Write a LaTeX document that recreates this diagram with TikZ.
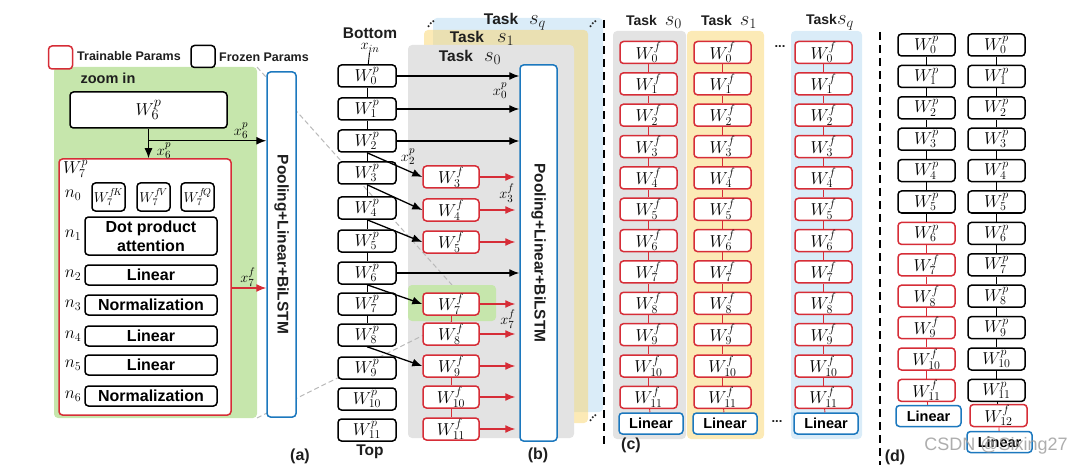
\documentclass[tikz,border=0pt]{standalone}
\usepackage{fontspec}
\setmainfont{Liberation Sans}
\usetikzlibrary{arrows.meta,positioning,calc}

\definecolor{tred}{RGB}{214,45,55}
\definecolor{tblue}{RGB}{28,120,190}
\definecolor{tgray}{RGB}{227,227,227}
\definecolor{tyellow}{RGB}{250,214,110}
\definecolor{tsky}{RGB}{218,236,248}
\definecolor{tgreen}{RGB}{198,230,172}
\definecolor{ttext}{RGB}{30,30,30}

\newcommand{\sbig}[1]{{\fontsize{21}{21}\selectfont$#1$}}

\tikzset{
  blk/.style={draw=black,line width=1.5pt,rounded corners=3.5pt,fill=white,
    inner sep=0pt,minimum width=58pt,minimum height=22pt,
    font=\fontsize{17.5}{17.5}\selectfont},
  trn/.style={blk,draw=tred},
  lin/.style={blk,draw=tblue,minimum width=64pt,minimum height=21pt,
    font=\fontsize{14.5}{14.5}\selectfont\bfseries},
  op/.style={blk,minimum width=132pt,minimum height=20pt,
    font=\fontsize{16}{19}\selectfont\bfseries},
  pool/.style={blk,draw=tblue},
  arr/.style={line width=1.3pt,-{Latex[length=10pt,width=8pt]}},
  rarr/.style={arr,tred},
  link/.style={line width=0.9pt},
  lbl/.style={inner sep=0pt,font=\fontsize{15.5}{15.5}\selectfont},
  txt/.style={inner sep=0pt,text=ttext,font=\fontsize{#1}{#1}\selectfont\bfseries},
  txt/.default=15,
  panel/.style={rounded corners=4pt},
  sepline/.style={line width=1.4pt,dash pattern=on 8pt off 5pt},
  zoomline/.style={gray!55,line width=1pt,dash pattern=on 5pt off 3pt},
}

\begin{document}
\begin{tikzpicture}[x=1pt,y=-1pt]
\useasboundingbox (0,0) rectangle (1085,468);

% backgrounds
\fill[tgreen,panel] (54,67) rectangle (257,418);
\coordinate (zt) at (257,67);
\coordinate (zb) at (257,418);

\fill[tsky,panel] (433,18) rectangle (603,412);
\fill[tyellow,fill opacity=.5,panel] (424,30) rectangle (588,423);
\fill[tgray,panel] (408,45) rectangle (574,438);
\coordinate (ht) at (452,285);
\coordinate (hb) at (452,321);
\draw[zoomline] (zt) -- (ht);
\draw[zoomline] (zb) -- (hb);
\fill[tgreen,panel] (408,285) rectangle (496,321);

\fill[tgray,panel] (613,31) rectangle (686,439);
\fill[tyellow,fill opacity=.5,panel] (687,31) rectangle (764,439);
\fill[tsky,panel] (791,31) rectangle (862,439);

\draw[sepline] (604,20) -- (604,445);
\draw[sepline] (880,32) -- (880,465);

% legend
\node[trn,minimum width=24pt,minimum height=23pt] (legt) at (60.5,57.5) {};
\node[txt=12.5,anchor=west] (legtl) at (77,56) {Trainable Params};
\node[blk,minimum width=24pt,minimum height=22pt] (legf) at (203,56.5) {};
\node[txt=12.5,anchor=west] (legfl) at (219,57) {Frozen Params};

% (a)
\node[txt=14.5] (zoomin) at (108,78) {zoom in};
\node[blk,minimum width=157pt,minimum height=36pt,font=\fontsize{19}{19}\selectfont] (a6) at (148.5,110) {$W_6^p$};
\node[trn,minimum width=172pt,minimum height=256pt] (a7) at (145,287) {};
\node[inner sep=0pt,anchor=north west,font=\fontsize{17}{17}\selectfont] (a7l) at (63,160) {$W_7^p$};
\foreach \k/\x in {K/108.5,V/153.5,Q/197.5}
  \node[blk,minimum width=33pt,minimum height=28pt,font=\fontsize{14.5}{14.5}\selectfont] (h\k) at (\x,197) {$W_7^{f\!\k}$};
\node[op,minimum height=38pt,align=center] (n1) at (151,236) {Dot product\\attention};
\node[op] (n2) at (151,275) {Linear};
\node[op] (n3) at (151,305) {Normalization};
\node[op] (n4) at (151,336) {Linear};
\node[op] (n5) at (151,365) {Linear};
\node[op] (n6) at (151,396) {Normalization};
\foreach \k/\y in {0/195,1/235,2/275,3/305,4/336,5/365,6/396}
  \node[inner sep=0pt,font=\fontsize{17}{17}\selectfont] (nl\k) at (73,\y) {$n_{\k}$};
\node[pool,minimum width=29pt,minimum height=345pt] (poola) at (281.5,244.5) {};
\node[txt=15.5,rotate=-90] (poolal) at (poola) {Pooling+Linear+BiLSTM};
\draw[arr] (a6.south) -- (a6.south |- a7.north);
\coordinate (a6b) at ($(a6.south)+(0,12)$);
\draw[arr] (a6b) -- (a6b -| poola.west);
\coordinate (a7o) at (231,288);
\draw[rarr] (a7o) -- (a7o -| poola.west);
\node[lbl] (xa1) at (241,131) {$x_6^p$};
\node[lbl] (xa2) at (164,151) {$x_6^p$};
\node[lbl] (xa3) at (248,277) {$x_7^f$};
\node[txt=16] (capa) at (300,456) {(a)};

% (b)
\node[txt=15.5] (bot) at (370,33) {Bottom};
\node[lbl] (xin) at (370,48) {$x_{in}$};
\node[txt=15.5] (top) at (370,452) {Top};
\foreach \i/\y in {0/76,1/109,2/141,3/173,4/208,5/241,6/273,7/304,8/335,9/368,10/399,11/430}
  \node[blk] (bp\i) at (367,\y) {$W_{\i}^{p}$};
\draw[link] (xin) -- (bp0);
\foreach \i/\j in {0/1,1/2,2/3,3/4,4/5,5/6,6/7,7/8}
  \draw[link] (bp\i) -- (bp\j);
\foreach \i/\y in {3/177,4/210,5/242,7/304,8/334,9/366,10/397,11/429}
  \node[trn,minimum width=56pt] (bf\i) at (451,\y) {$W_{\i}^{f}$};
\foreach \i/\j in {7/8,9/10,10/11}
  \draw[link,tred] (bf\i) -- (bf\j);
\node[pool,minimum width=37pt,minimum height=376pt] (poolb) at (538.5,253) {};
\node[txt=15.5,rotate=-90] (poolbl) at (poolb) {Pooling+Linear+BiLSTM};
\foreach \i in {0,1,2,6}
  \draw[arr] (bp\i.east) -- (bp\i.east -| poolb.west);
\foreach \i in {3,4,5,7,8,9,10,11}
  \draw[rarr,shorten >=4pt] (bf\i.east) -- (bf\i.east -| poolb.west);
\foreach \i/\j in {2/3,3/4,4/5,6/7,8/9}
  \draw[arr] (bp\i.south) -- (bf\j.west);
\node[lbl] (xb0) at (500,91) {$x_0^p$};
\node[lbl] (xb2) at (408,157) {$x_2^p$};
\node[lbl] (xb3) at (507,193) {$x_3^f$};
\node[lbl] (xb7) at (508,319) {$x_7^f$};
\node[txt=15.5] (tbq) at (515,22) {Task\hspace{11pt}\sbig{s_q}};
\node[txt=15.5] (tb1) at (482,38) {Task\hspace{13pt}\sbig{s_1}};
\node[txt=15.5] (tb0) at (470,57) {Task\hspace{11pt}\sbig{s_0}};
\node[txt=12,rotate=45] (dq1) at (431,24) {...};
\node[txt=12,rotate=45] (dq2) at (593,24) {...};
\node[txt=12,rotate=45] (dq3) at (593,418) {...};
\node[txt=16] (capb) at (538,455) {(b)};

% (c)
\foreach \col/\cx in {0/648.5,1/722.5,q/823.5} {
  \foreach \i in {0,...,11}
    \node[trn,minimum width=57pt] (c\col f\i) at (\cx,{52.5+31.35*\i}) {$W_{\i}^{f}$};
  \node[lin] (c\col lin) at (\cx+2.5,423.5) {Linear};
  \foreach \i in {0,...,10} {
    \pgfmathtruncatemacro\j{\i+1}
    \draw[link,tred] (c\col f\i) -- (c\col f\j);
  }
  \draw[link,tred] (c\col f11) -- (c\col lin);
}
\node[txt=14] (tc0) at (654,22) {Task\hspace{8pt}\sbig{s_0}};
\node[txt=14] (tc1) at (729,22) {Task\hspace{8pt}\sbig{s_1}};
\node[txt=14] (tcq) at (830,22) {Task\sbig{s_q}};
\node[txt=13] (dc1) at (780,47) {...};
\node[txt=13] (dc2) at (777,422) {...};
\node[txt=16] (capc) at (631,445) {(c)};

% (d)
\foreach \i in {0,...,5}
  \node[blk,minimum width=57pt] (d1w\i) at (926.5,{45+31.4*\i}) {$W_{\i}^{p}$};
\node[trn,minimum width=57pt] (d1w6) at (926.5,233.4) {$W_{6}^{p}$};
\foreach \i in {7,...,11}
  \node[trn,minimum width=57pt] (d1w\i) at (926.5,{45+31.4*\i}) {$W_{\i}^{f}$};
\node[lin,minimum width=65pt] (d1lin) at (928.5,416) {Linear};
\foreach \i in {0,...,11}
  \node[blk,minimum width=57pt] (d2w\i) at (996.5,{45+31.4*\i}) {$W_{\i}^{p}$};
\node[trn,minimum width=57pt] (d2f12) at (998.5,415.5) {$W_{12}^{f}$};
\node[lin,minimum width=65pt] (d2lin) at (999.5,442) {Linear};
\foreach \i in {0,...,10} {
  \pgfmathtruncatemacro\j{\i+1}
  \draw[link] (d2w\i) -- (d2w\j);
}
\foreach \i/\j in {0/1,1/2,2/3,3/4,4/5,5/6}
  \draw[link] (d1w\i) -- (d1w\j);
\foreach \i/\j in {6/7,7/8,8/9,9/10,10/11}
  \draw[link,tred] (d1w\i) -- (d1w\j);
\draw[link,tred] (d1w11) -- (d1lin);
\draw[link] (d2w11) -- (d2f12);
\draw[link,tred] (d2f12) -- (d2lin);
\node[txt=16] (capd) at (895,457) {(d)};

\node[text=gray!75,opacity=.85,font=\fontsize{18}{18}\selectfont] (wm) at (996,446) {CSDN @Sixing27};
\end{tikzpicture}
\end{document}
